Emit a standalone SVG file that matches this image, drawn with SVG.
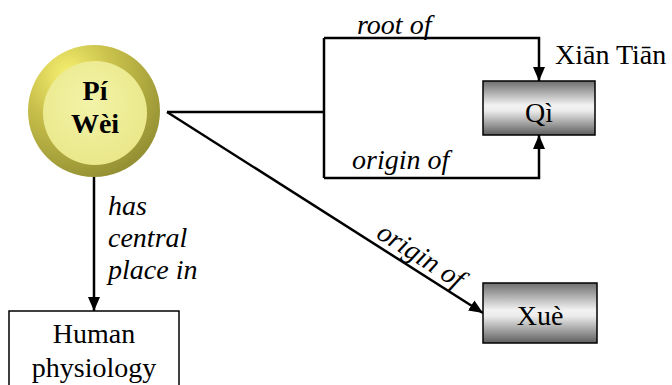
<svg xmlns="http://www.w3.org/2000/svg" width="672" height="385" viewBox="0 0 672 385" font-family="'Liberation Serif', 'Times New Roman', 'DejaVu Serif', serif">
<style>
text{font-family:"Liberation Serif","Times New Roman","DejaVu Serif",serif;font-size:28px;fill:#000}
.i{font-style:italic}
.b{font-weight:bold}
.ln{stroke:#000;stroke-width:2.5;fill:none}
.box{stroke:#000;stroke-width:1.5}
</style>
<defs>
<linearGradient id="gray" x1="0" y1="0" x2="0" y2="1">
<stop offset="0" stop-color="#6e6e6e"/>
<stop offset="0.45" stop-color="#f2f2f2"/>
<stop offset="0.55" stop-color="#ececec"/>
<stop offset="1" stop-color="#5e5e5e"/>
</linearGradient>
<radialGradient id="ring" cx="0.3" cy="0.22" r="0.85">
<stop offset="0" stop-color="#f6f070"/>
<stop offset="0.4" stop-color="#cac24c"/>
<stop offset="1" stop-color="#928e32"/>
</radialGradient>
<radialGradient id="core" cx="0.45" cy="0.4" r="0.7">
<stop offset="0" stop-color="#f3f3a8"/>
<stop offset="0.85" stop-color="#eae88a"/>
<stop offset="1" stop-color="#d8d470"/>
</radialGradient>
<marker id="ah" markerWidth="14" markerHeight="12" refX="14" refY="6" orient="auto" markerUnits="userSpaceOnUse">
<path d="M0,0 L14,6 L0,12 Z" fill="#000"/>
</marker>
</defs>
<g id="connectors">
<path class="ln" d="M167,112 H324"/>
<path class="ln" d="M324,38 V178"/>
<path class="ln" d="M324,38 H539 V81" marker-end="url(#ah)"/>
<path class="ln" d="M324,178 H539 V135" marker-end="url(#ah)"/>
<path class="ln" d="M167,112 L483,313" marker-end="url(#ah)"/>
<path class="ln" d="M94,177 V311" marker-end="url(#ah)"/>
<text class="i" x="357" y="34">root of</text>
<text class="i" x="352" y="169">origin of</text>
<text class="i" transform="translate(416,263) rotate(32.5)" text-anchor="middle">origin of</text>
<text class="i" x="108" y="215">has</text>
<text class="i" x="108" y="247">central</text>
<text class="i" x="108" y="279">place in</text>
</g>
<g id="piwei">
<circle cx="94" cy="111" r="66" fill="url(#ring)"/>
<circle cx="95" cy="113" r="52" fill="url(#core)"/>
<text class="b" x="95" y="100" text-anchor="middle">Pí</text>
<text class="b" x="95" y="133" text-anchor="middle">Wèi</text>
</g>
<g id="qi">
<rect class="box" x="483" y="81" width="112" height="54" fill="url(#gray)"/>
<text x="539" y="122" text-anchor="middle">Qì</text>
</g>
<g id="xiantian">
<text x="555" y="64">Xiān Tiān</text>
</g>
<g id="xue">
<rect class="box" x="483" y="283" width="114" height="60" fill="url(#gray)"/>
<text x="540" y="325" text-anchor="middle">Xuè</text>
</g>
<g id="human">
<rect class="box" x="9" y="311" width="170" height="90" fill="#fff"/>
<text x="94" y="343" text-anchor="middle">Human</text>
<text x="94" y="377" text-anchor="middle">physiology</text>
</g>
</svg>
